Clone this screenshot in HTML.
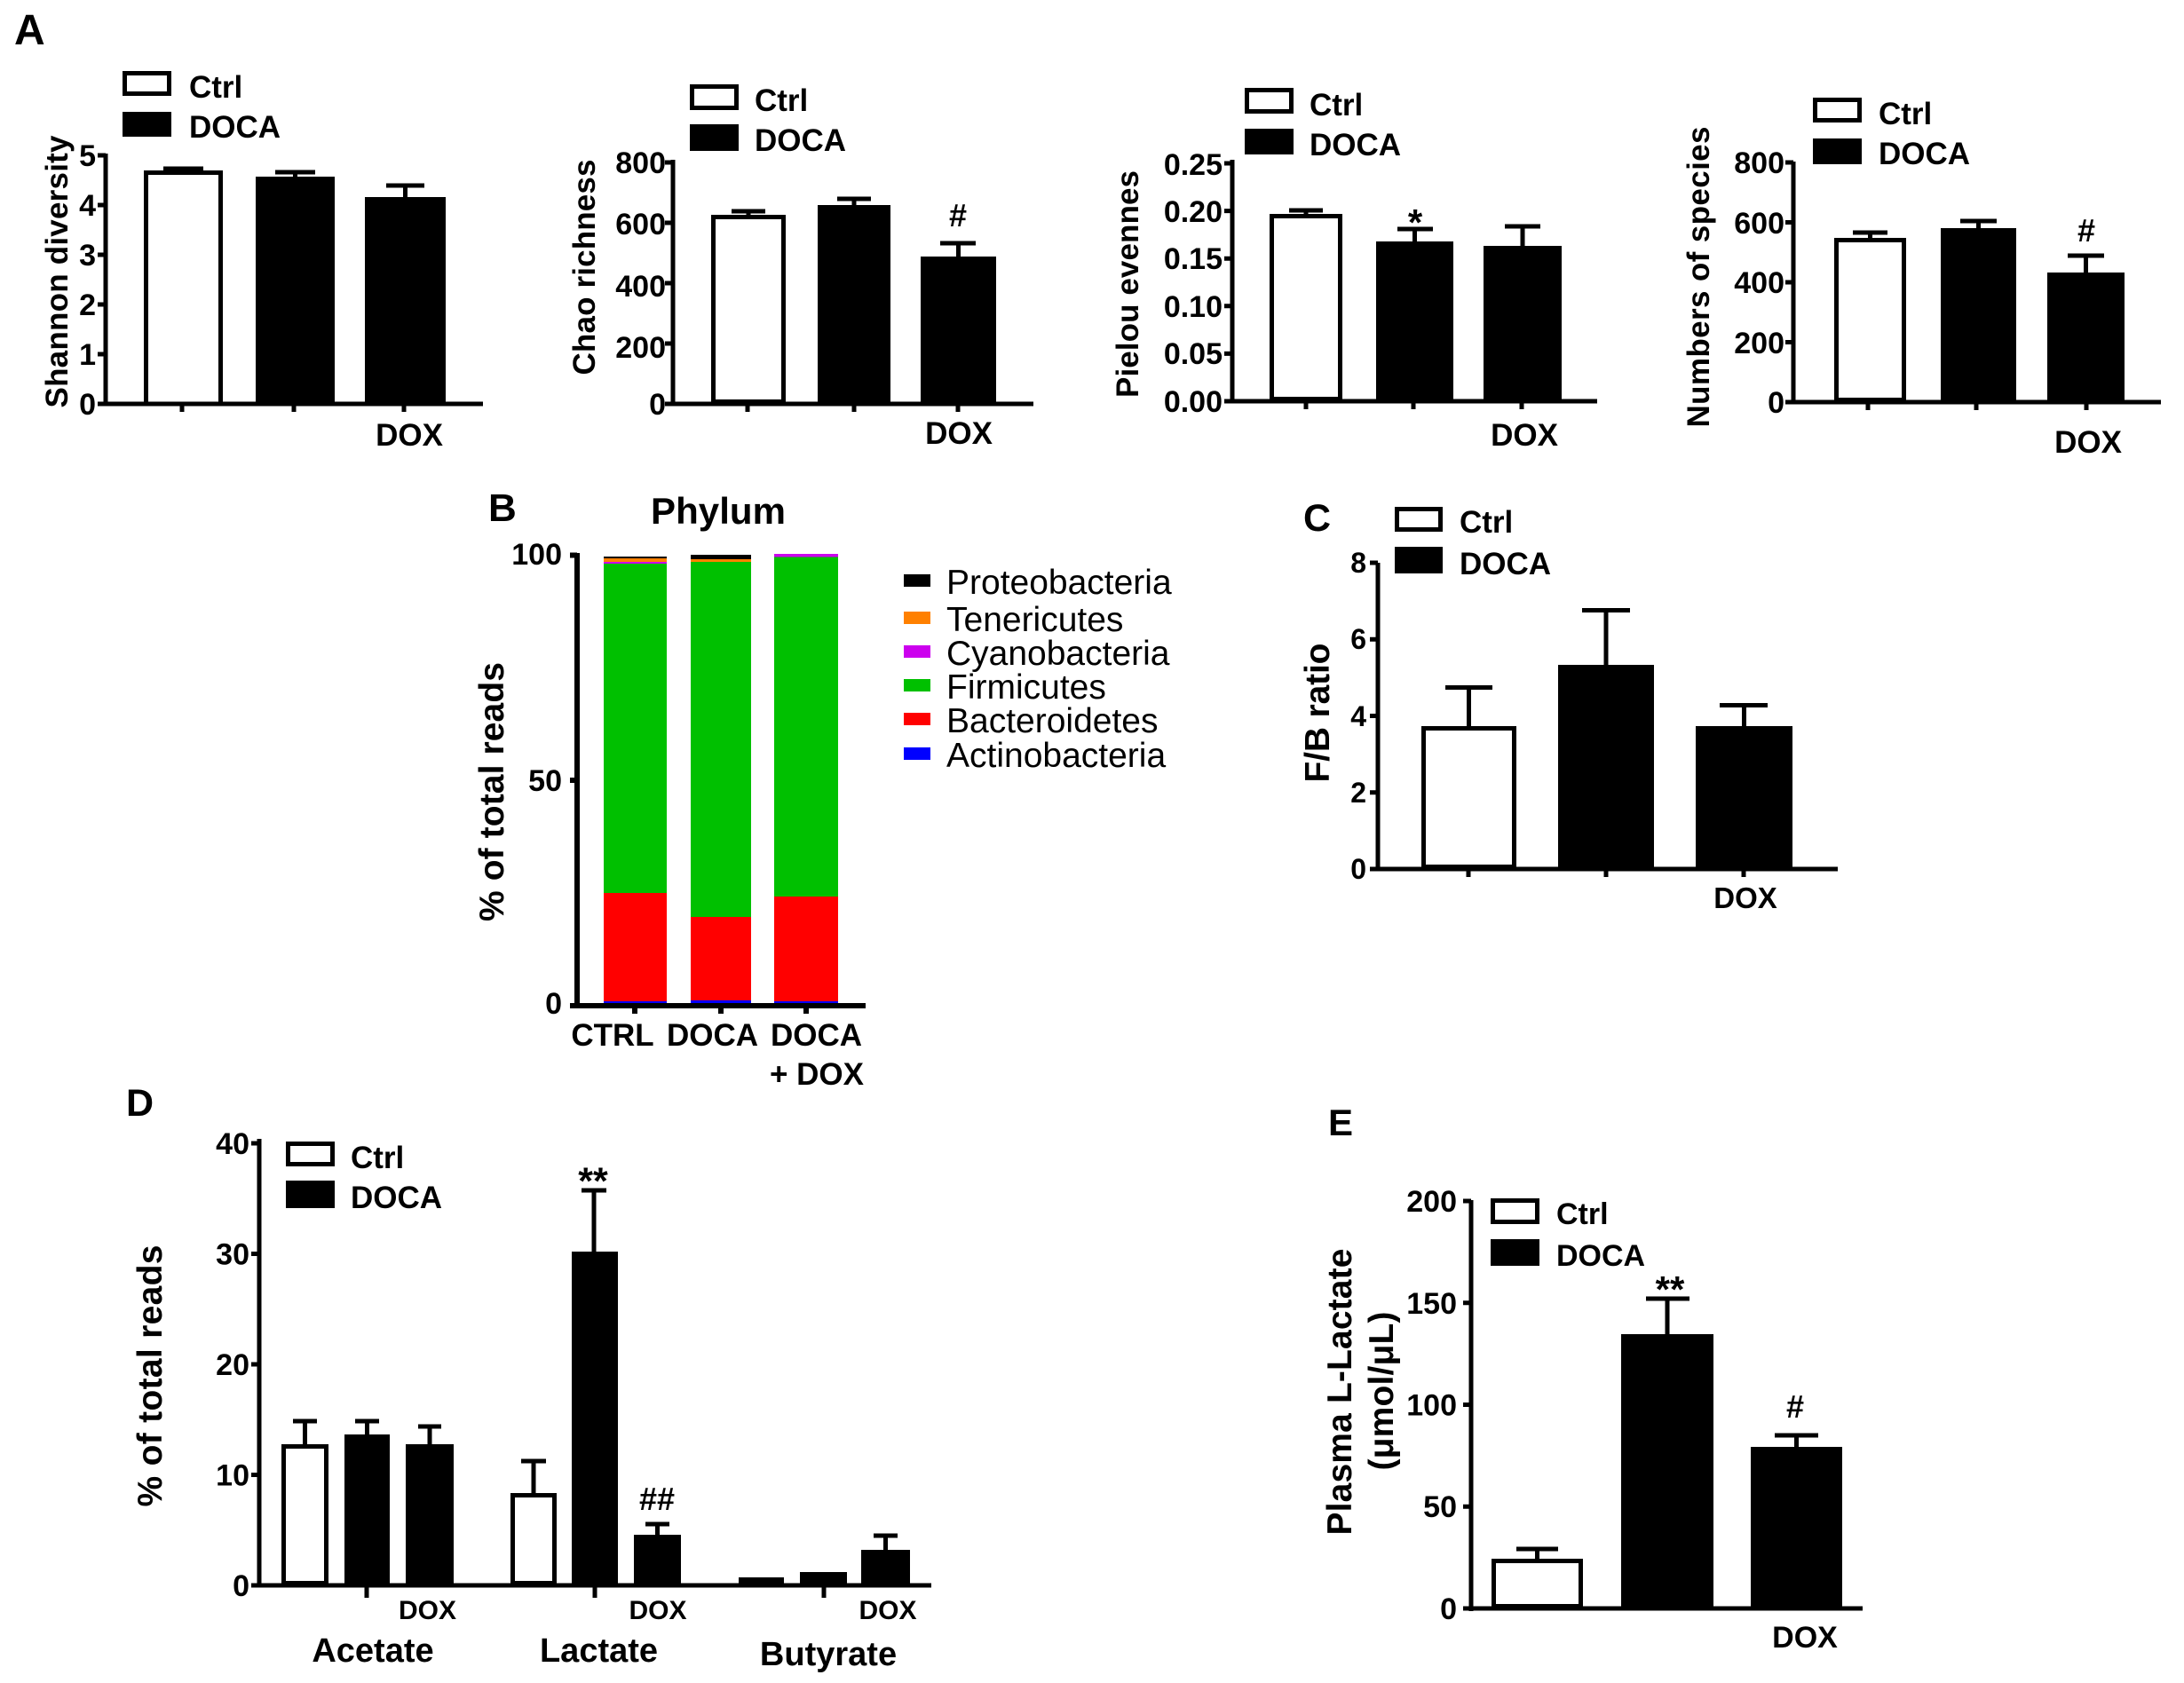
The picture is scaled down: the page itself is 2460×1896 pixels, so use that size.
<!DOCTYPE html>
<html><head><meta charset="utf-8">
<style>
html,body{margin:0;padding:0;background:#fff;}
svg{display:block;}
text{font-family:"Liberation Sans",Arial,sans-serif;font-weight:bold;fill:#000;}
.r{font-weight:normal;}
.m{text-anchor:middle;}
.e{text-anchor:end;}
</style></head><body>
<svg width="2460" height="1896" viewBox="0 0 2460 1896" xmlns="http://www.w3.org/2000/svg">
<rect width="2460" height="1896" fill="#fff"/>

<!-- ===== Panel A1 Shannon ===== -->
<text x="16" y="50" font-size="48">A</text>
<g stroke="#000" stroke-width="5" fill="none">
<path d="M119 173V457M114 455H544"/>
<path d="M110 455H119M110 399H119M110 343H119M110 287H119M110 231H119M110 175H119"/>
<path d="M205 455V464M331 455V464M455 455V464"/>
<rect x="164.5" y="194.5" width="84" height="260.5" fill="#fff"/>
<path d="M206.5 192V190M184 190H229M332.5 199V194M310 194H355M456.5 222V209M435 209H478"/>
<rect x="140.5" y="82.5" width="50" height="23" fill="#fff"/>
</g>
<rect x="288" y="199" width="89" height="256"/>
<rect x="411" y="222" width="91" height="233"/>
<rect x="138" y="126" width="55" height="28"/>
<text x="213" y="110" font-size="35">Ctrl</text>
<text x="213" y="155" font-size="35">DOCA</text>
<g font-size="34">
<text x="108" y="467" class="e">0</text><text x="108" y="411" class="e">1</text><text x="108" y="355" class="e">2</text>
<text x="108" y="299" class="e">3</text><text x="108" y="243" class="e">4</text><text x="108" y="187" class="e">5</text>
</g>
<text x="461" y="502" font-size="35" class="m">DOX</text>
<text transform="translate(76,306) rotate(-90)" class="m" font-size="35" textLength="307" lengthAdjust="spacing">Shannon diversity</text>

<!-- ===== Panel A2 Chao ===== -->
<g transform="translate(-2,0)">
<g stroke="#000" stroke-width="5" fill="none">
<path d="M760 180V457M757 455H1166"/>
<path d="M751 455H760M751 387H760M751 319H760M751 251H760M751 183H760"/>
<path d="M844 455V464M964 455V464M1081 455V464"/>
<rect x="805.5" y="244.5" width="79" height="208" fill="#fff"/>
<path d="M845 242V238M826 238H864M964 231V224M945 224H983M1081.5 289V274M1061 274H1101"/>
<rect x="781.5" y="97.5" width="50" height="24" fill="#fff"/>
</g>
<rect x="923" y="231" width="82" height="224"/>
<rect x="1039" y="289" width="85" height="166"/>
<rect x="779" y="140" width="55" height="30"/>
<text x="852" y="125" font-size="35">Ctrl</text>
<text x="852" y="170" font-size="35">DOCA</text>
<text x="752" y="467" font-size="34" class="e">0</text>
<text x="752" y="403" font-size="34" class="e">200</text>
<text x="752" y="334" font-size="34" class="e">400</text>
<text x="752" y="264" font-size="34" class="e">600</text>
<text x="752" y="195" font-size="34" class="e">800</text>
<text x="1081" y="255" font-size="36" class="m">#</text>
<text x="1082" y="500" font-size="35" class="m">DOX</text>
<text transform="translate(672,301) rotate(-90)" class="m" font-size="35" textLength="243" lengthAdjust="spacing">Chao richness</text>
</g>

<!-- ===== Panel A3 Pielou ===== -->
<g transform="translate(-3,0)">
<g stroke="#000" stroke-width="5" fill="none">
<path d="M1391 180V454M1386 452H1802"/>
<path d="M1382 452H1391M1382 398.4H1391M1382 344.8H1391M1382 291.2H1391M1382 237.6H1391M1382 184H1391"/>
<path d="M1474 452V461M1595 452V461M1717 452V461"/>
<rect x="1435.5" y="243.5" width="77" height="206" fill="#fff"/>
<path d="M1474 241V237M1455 237H1493M1596.5 272V258M1577 258H1617M1718 277V255M1698 255H1738"/>
<rect x="1407.5" y="101.5" width="50" height="24" fill="#fff"/>
</g>
<rect x="1553" y="272" width="87" height="180"/>
<rect x="1674" y="277" width="88" height="175"/>
<rect x="1405" y="145" width="55" height="29"/>
<text x="1478" y="130" font-size="35">Ctrl</text>
<text x="1478" y="175" font-size="35">DOCA</text>
<text x="1380" y="464" font-size="34" class="e">0.00</text>
<text x="1380" y="410" font-size="34" class="e">0.05</text>
<text x="1380" y="357" font-size="34" class="e">0.10</text>
<text x="1380" y="303" font-size="34" class="e">0.15</text>
<text x="1380" y="250" font-size="34" class="e">0.20</text>
<text x="1380" y="197" font-size="34" class="e">0.25</text>
<text x="1597" y="265" font-size="42" class="m">*</text>
<text x="1720" y="502" font-size="35" class="m">DOX</text>
<text transform="translate(1285,320) rotate(-90)" class="m" font-size="35" textLength="256" lengthAdjust="spacing">Pielou evennes</text>
</g>

<!-- ===== Panel A4 Species ===== -->
<g transform="translate(-4,0)">
<g stroke="#000" stroke-width="5" fill="none">
<path d="M2024 182V455M2019 453H2438"/>
<path d="M2015 453H2024M2015 385.5H2024M2015 318H2024M2015 250.5H2024M2015 183H2024"/>
<path d="M2108 453V462M2230 453V462M2354 453V462"/>
<rect x="2072.5" y="270.5" width="76" height="180" fill="#fff"/>
<path d="M2110.5 268V262M2091 262H2130M2232.5 257V249M2212 249H2253M2353.5 307V288M2333 288H2374"/>
<rect x="2048.5" y="112.5" width="50" height="23" fill="#fff"/>
</g>
<rect x="2190" y="257" width="85" height="196"/>
<rect x="2310" y="307" width="87" height="146"/>
<rect x="2046" y="156" width="55" height="29"/>
<text x="2120" y="140" font-size="35">Ctrl</text>
<text x="2120" y="185" font-size="35">DOCA</text>
<text x="2014" y="465" font-size="34" class="e">0</text>
<text x="2014" y="398" font-size="34" class="e">200</text>
<text x="2014" y="330" font-size="34" class="e">400</text>
<text x="2014" y="263" font-size="34" class="e">600</text>
<text x="2014" y="195" font-size="34" class="e">800</text>
<text x="2354" y="272" font-size="36" class="m">#</text>
<text x="2356" y="510" font-size="35" class="m">DOX</text>
<text transform="translate(1929,312) rotate(-90)" class="m" font-size="35" textLength="339" lengthAdjust="spacing">Numbers of species</text>
</g>

<!-- ===== Panel B ===== -->
<text x="550" y="587" font-size="44">B</text>
<text x="809" y="590" font-size="42" class="m" textLength="152" lengthAdjust="spacing">Phylum</text>
<rect x="680" y="627" width="71" height="2" fill="#000"/>
<rect x="680" y="629" width="71" height="4" fill="#ff8000"/>
<rect x="680" y="633" width="71" height="2" fill="#cc00ee"/>
<rect x="680" y="635" width="71" height="371" fill="#00c000"/>
<rect x="680" y="1006" width="71" height="124" fill="#ff0000"/>
<rect x="680" y="1128" width="71" height="2" fill="#0000ff"/>
<rect x="778" y="625" width="68" height="5" fill="#000"/>
<rect x="778" y="630" width="68" height="3" fill="#ff8000"/>
<rect x="778" y="633" width="68" height="400" fill="#00c000"/>
<rect x="778" y="1033" width="68" height="95" fill="#ff0000"/>
<rect x="778" y="1127" width="68" height="3" fill="#0000ff"/>
<rect x="872" y="624" width="72" height="3.5" fill="#cc00ee"/>
<rect x="872" y="627.5" width="72" height="382.5" fill="#00c000"/>
<rect x="872" y="1010" width="72" height="118" fill="#ff0000"/>
<rect x="872" y="1128" width="72" height="2" fill="#0000ff"/>
<g stroke="#000" stroke-width="6" fill="none">
<path d="M650 623V1136M647 1133H975"/>
<path d="M642 625.5H650M642 879H650M642 1133H650"/>
<path d="M715 1133V1142M812 1133V1142M908 1133V1142"/>
</g>
<text x="633" y="636" font-size="34" class="e">100</text>
<text x="633" y="891" font-size="34" class="e">50</text>
<text x="633" y="1142" font-size="34" class="e">0</text>
<text x="690" y="1178" font-size="35" class="m">CTRL</text>
<text x="802.5" y="1178" font-size="35" class="m">DOCA</text>
<text x="919.5" y="1178" font-size="35" class="m">DOCA</text>
<text x="920" y="1222" font-size="35" class="m">+ DOX</text>
<text transform="translate(567,892) rotate(-90)" class="m" font-size="39" textLength="292" lengthAdjust="spacing">% of total reads</text>
<rect x="1018" y="647" width="30" height="14" fill="#000"/>
<rect x="1018" y="689" width="30" height="14" fill="#ff8000"/>
<rect x="1018" y="727" width="30" height="14" fill="#cc00ee"/>
<rect x="1018" y="765" width="30" height="14" fill="#00c000"/>
<rect x="1018" y="803" width="30" height="14" fill="#ff0000"/>
<rect x="1018" y="842" width="30" height="14" fill="#0000ff"/>
<text x="1066" y="669" font-size="39" class="r">Proteobacteria</text>
<text x="1066" y="711" font-size="39" class="r">Tenericutes</text>
<text x="1066" y="749" font-size="39" class="r">Cyanobacteria</text>
<text x="1066" y="787" font-size="39" class="r">Firmicutes</text>
<text x="1066" y="825" font-size="39" class="r">Bacteroidetes</text>
<text x="1066" y="864" font-size="39" class="r">Actinobacteria</text>

<!-- ===== Panel C ===== -->
<text x="1468" y="598" font-size="43">C</text>
<g transform="translate(-3,0)">
<g stroke="#000" stroke-width="5" fill="none">
<path d="M1555 634V981M1552 979H2073"/>
<path d="M1546 979H1555M1546 892.75H1555M1546 806.5H1555M1546 720.25H1555M1546 634H1555"/>
<path d="M1657 979V988M1812 979V988M1967 979V988"/>
<rect x="1606.5" y="820.5" width="102" height="156" fill="#fff"/>
<path d="M1657.5 818V774.5M1631 774.5H1684M1812 749V687.5M1785 687.5H1839M1967.5 818V794.5M1940 794.5H1994"/>
<rect x="1576.5" y="573.5" width="49" height="23" fill="#fff"/>
</g>
<rect x="1758" y="749" width="108" height="230"/>
<rect x="1913" y="818" width="109" height="161"/>
<rect x="1574" y="616" width="54" height="30"/>
<text x="1647" y="600" font-size="35">Ctrl</text>
<text x="1647" y="647" font-size="35">DOCA</text>
<text x="1542" y="990" font-size="32" class="e">0</text>
<text x="1542" y="904" font-size="32" class="e">2</text>
<text x="1542" y="818" font-size="32" class="e">4</text>
<text x="1542" y="731" font-size="32" class="e">6</text>
<text x="1542" y="645" font-size="32" class="e">8</text>
<text x="1969" y="1023" font-size="33" class="m">DOX</text>
<text transform="translate(1500,803) rotate(-90)" class="m" font-size="39" textLength="157" lengthAdjust="spacing">F/B ratio</text>
</g>

<!-- ===== Panel D ===== -->
<text x="142" y="1257" font-size="43">D</text>
<g stroke="#000" stroke-width="5" fill="none">
<path d="M292 1283V1788M288 1786H1049"/>
<path d="M283 1786H292M283 1661.5H292M283 1537H292M283 1412.5H292M283 1288H292"/>
<path d="M413 1786V1800M670 1786V1800M928 1786V1800"/>
<rect x="319.5" y="1629.5" width="48" height="154" fill="#fff"/>
<rect x="577.5" y="1684.5" width="47" height="99" fill="#fff"/>
<rect x="834.5" y="1779.5" width="46" height="4" fill="#fff"/>
<path d="M343.5 1627V1601M330 1601H357M413.5 1616V1601M400 1601H427M484 1627V1607M471 1607H497"/>
<path d="M601 1682V1646M587 1646H615M669 1410V1341M655 1341H683M740.5 1729V1717M727 1717H754"/>
<path d="M997.5 1746V1730M984 1730H1011"/>
<rect x="324.5" y="1288.5" width="50" height="23" fill="#fff"/>
</g>
<rect x="388" y="1616" width="51" height="170"/>
<rect x="457" y="1627" width="54" height="159"/>
<rect x="644" y="1410" width="52" height="376"/>
<rect x="714" y="1729" width="53" height="57"/>
<rect x="901" y="1771" width="53" height="15"/>
<rect x="970" y="1746" width="55" height="40"/>
<rect x="322" y="1330" width="55" height="31"/>
<text x="395" y="1316" font-size="35">Ctrl</text>
<text x="395" y="1361" font-size="35">DOCA</text>
<text x="281" y="1798" font-size="34" class="e">0</text>
<text x="281" y="1673.5" font-size="34" class="e">10</text>
<text x="281" y="1549" font-size="34" class="e">20</text>
<text x="281" y="1424.5" font-size="34" class="e">30</text>
<text x="281" y="1300" font-size="34" class="e">40</text>
<text x="668" y="1345" font-size="43" class="m">**</text>
<text x="740" y="1701" font-size="36" class="m">##</text>
<text x="481.5" y="1824" font-size="30" class="m">DOX</text>
<text x="741" y="1824" font-size="30" class="m">DOX</text>
<text x="1000" y="1824" font-size="30" class="m">DOX</text>
<text x="420" y="1872" font-size="38" class="m">Acetate</text>
<text x="674.5" y="1872" font-size="38" class="m">Lactate</text>
<text x="933" y="1876" font-size="38" class="m">Butyrate</text>
<text transform="translate(182,1550) rotate(-90)" class="m" font-size="39" textLength="295" lengthAdjust="spacing">% of total reads</text>

<!-- ===== Panel E ===== -->
<text x="1496" y="1279" font-size="42">E</text>
<g transform="translate(-2,0)">
<g stroke="#000" stroke-width="5" fill="none">
<path d="M1659 1352V1815M1653 1812H2100"/>
<path d="M1650 1812H1659M1650 1697.25H1659M1650 1582.5H1659M1650 1467.75H1659M1650 1353H1659"/>
<rect x="1684.5" y="1758.5" width="98" height="51" fill="#fff"/>
<path d="M1733.5 1756V1745M1710 1745H1757M1880 1503V1463M1856 1463H1905M2025.5 1630V1617M2001 1617H2050"/>
<rect x="1683.5" y="1352.5" width="50" height="24" fill="#fff"/>
</g>
<rect x="1828" y="1503" width="104" height="309"/>
<rect x="1974" y="1630" width="103" height="182"/>
<rect x="1681" y="1396" width="55" height="30"/>
<text x="1755" y="1379" font-size="34">Ctrl</text>
<text x="1755" y="1426" font-size="34">DOCA</text>
<text x="1643" y="1824" font-size="34" class="e">0</text>
<text x="1643" y="1709" font-size="34" class="e">50</text>
<text x="1643" y="1594.5" font-size="34" class="e">100</text>
<text x="1643" y="1480" font-size="34" class="e">150</text>
<text x="1643" y="1365" font-size="34" class="e">200</text>
<text x="1883" y="1467" font-size="42" class="m">**</text>
<text x="2024" y="1597" font-size="36" class="m">#</text>
<text x="2035" y="1856" font-size="34" class="m">DOX</text>
<text transform="translate(1524,1568) rotate(-90)" class="m" font-size="39" textLength="323" lengthAdjust="spacing">Plasma L-Lactate</text>
<text transform="translate(1571,1567) rotate(-90)" class="m" font-size="39" textLength="179" lengthAdjust="spacing">(μmol/μL)</text>
</g>
</svg>
</body></html>
